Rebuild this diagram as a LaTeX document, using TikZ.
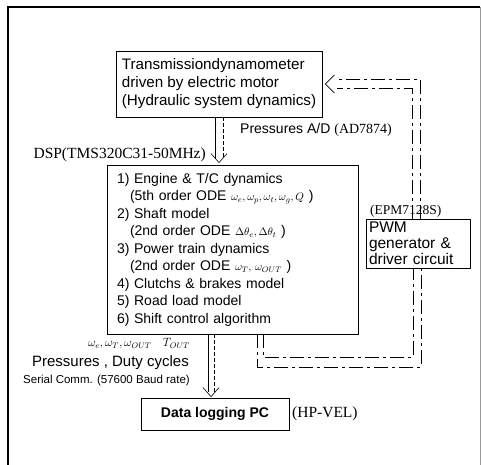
\documentclass[tikz,border=0pt]{standalone}
\usepackage{fontspec}
\setmainfont{Liberation Sans}
\newfontfamily\serifl{Liberation Serif}
\usetikzlibrary{calc}
\begin{document}
\begin{tikzpicture}[x=1pt,y=-1pt,
  box/.style={draw, line width=0.8pt, inner sep=0pt},
  lbl/.style={inner sep=0pt, font=\serifl\fontsize{13.5}{16}\selectfont},
  ln/.style={draw, line width=0.7pt},
  dl/.style={draw, line width=0.6pt, dash pattern=on 4pt off 2pt},
  dd/.style={draw, line width=0.6pt, dash pattern=on 14pt off 4pt on 3pt off 4pt},
  chev/.style={draw, line width=0.6pt}]
\useasboundingbox (0,0) rectangle (481,464);
% outer frame
\draw[line width=1.4pt] (8,470) -- (8,7) -- (480,7);
\draw[line width=0.4pt, black!40] (480,7) -- (480,470);

\node[box, minimum width=206pt, minimum height=66pt, align=left,
      font=\fontsize{15.2}{18}\selectfont] (dyno) at (219,84)
  {Transmissiondynamometer\\ driven by electric motor\\ (Hydraulic system dynamics)};

\node[box, minimum width=251pt, minimum height=169pt, text width=231pt, align=left,
      font=\fontsize{14}{17.5}\selectfont] (dsp) at (232.5,249.5)
  {1) Engine \& T/C dynamics\\
   \hspace*{13pt}(5th order ODE {\fontsize{11}{12}\selectfont$\omega_e,\omega_p,\omega_t,\omega_g,Q$} )\\
   2) Shaft model\\
   \hspace*{13pt}(2nd order ODE {\fontsize{11}{12}\selectfont$\Delta\theta_e,\Delta\theta_t$} )\\
   3) Power train dynamics\\
   \hspace*{13pt}(2nd order ODE {\fontsize{11}{12}\selectfont$\omega_T,\,\omega_{OUT}$} )\\
   4) Clutchs \& brakes model\\
   5) Road load model\\
   6) Shift control algorithm};

\node[box, minimum width=104pt, minimum height=49pt, text width=98pt, align=left,
      font=\fontsize{15.5}{16}\selectfont] (pwm) at (418,243.5)
  {PWM\\ generator \&\\ driver circuit};

\node[box, minimum width=148pt, minimum height=32pt, align=center,
      font=\bfseries\fontsize{14}{16}\selectfont] (pc) at (215,414) {Data logging PC};

% labels
\node[lbl, anchor=east, font=\serifl\fontsize{15.5}{16}\selectfont] (dsplbl) at (206,155) {DSP(TMS320C31-50MHz)};
\node[lbl, anchor=west] (epm) at (370,211) {(EPM7128S)};
\node[lbl, anchor=west, font=\serifl\fontsize{15.5}{16}\selectfont] (hp) at (292,414) {(HP-VEL)};
\node[inner sep=0pt, anchor=west, font=\fontsize{14}{16}\selectfont] (press) at (240,130)
  {Pressures A/D {\serifl (AD7874)}};
\node[inner sep=0pt, anchor=east, font=\fontsize{11.5}{12}\selectfont] (sig) at (190,344)
  {$\omega_e,\omega_T,\omega_{OUT}\quad T_{OUT}$};
\node[inner sep=0pt, anchor=east, font=\fontsize{15}{16}\selectfont] (presd) at (189,363)
  {Pressures , Duty cycles};
\node[inner sep=0pt, anchor=east, font=\fontsize{11.5}{12}\selectfont] (ser) at (190,381)
  {Serial Comm. (57600 Baud rate)};

% dyno -> dsp
\coordinate (t1) at ($(dyno.south |- dsp.north)+(0,-2)$);
\draw[ln] ([xshift=-4pt]dyno.south) -- ($(t1)+(-4,-4)$);
\draw[dl] ([xshift=4pt]dyno.south) -- ($(t1)+(4,-4)$);
\draw[chev] ($(t1)+(-8,-9)$) -- (t1) -- ($(t1)+(8,-9)$);

% dsp -> pc
\coordinate (t2) at ($([xshift=-4pt]pc.north)+(0,-1)$);
\draw[ln] ($(t2 |- dsp.south)+(-3,0)$) -- ($(t2)+(-3,-5)$);
\draw[dl] ($(t2 |- dsp.south)+(3,0)$) -- ($(t2)+(3,-5)$);
\draw[chev] ($(t2)+(-8,-9)$) -- (t2) -- ($(t2)+(8,-9)$);

% dsp -> pwm (dashed loop)
\coordinate (bi) at (263,357);
\coordinate (bo) at (257,367);
\draw[dd] (bi |- dsp.south) -- (bi) -- (bi -| 413,0) -- (413,0 |- pwm.south);
\draw[dd] (bo |- dsp.south) -- (bo) -- (bo -| 421,0) -- (421,0 |- pwm.south);

% pwm -> dyno
\coordinate (ci) at (412,88);
\coordinate (co) at (420,79);
\coordinate (t3) at ($(dyno.east)+(3,0)$);
\draw[dd] (ci |- pwm.north) -- (ci) -- ($(ci -| t3)+(12,0)$);
\draw[dd] (co |- pwm.north) -- (co) -- ($(co -| t3)+(12,0)$);
\draw[chev] ($(t3)+(9,-9)$) -- (t3) -- ($(t3)+(9,9)$);
\end{tikzpicture}
\end{document}
